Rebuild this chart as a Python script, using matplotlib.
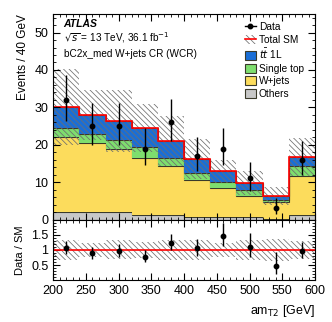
import numpy as np
import matplotlib
matplotlib.use('Agg')
import matplotlib.pyplot as plt
from matplotlib.patches import Patch
from matplotlib.lines import Line2D
from matplotlib.ticker import MultipleLocator

plt.rcParams['font.family'] = ['Liberation Sans', 'DejaVu Sans']
plt.rcParams['hatch.linewidth'] = 0.55

edges = np.arange(200, 601, 40)
centers = edges[:-1] + 20

others = [2.1, 2.1, 2.1, 1.1, 1.2, 0.8, 0.6, 0.6, 0.2, 1.2]
wjets = [20.1, 18.4, 16.9, 15.3, 13.2, 9.9, 7.9, 5.6, 4.4, 10.4]
single_top = [2.4, 2.3, 2.2, 3.1, 2.0, 1.8, 1.5, 1.7, 0.7, 2.6]
ttbar = [5.5, 5.2, 5.1, 4.9, 4.6, 3.7, 2.9, 2.0, 1.1, 2.5]
sm_unc = [10.1, 6.6, 8.3, 6.4, 6.7, 5.3, 3.0, 3.2, 2.4, 5.0]

data = [32, 25, 25, 19, 26, 17, 19, 11, 3, 16]
data_up = [6.7, 6.1, 6.1, 5.4, 6.2, 5.2, 5.4, 4.4, 2.9, 5.1]
data_dn = [5.6, 5.0, 5.0, 4.3, 5.1, 4.1, 4.3, 3.3, 1.6, 4.0]

samples = [
    ('Others', others, '#c8c8c8'),
    ('W+jets', wjets, '#fcdc5c'),
    ('Single top', single_top, '#7ede6e'),
    (r'$t\bar{t}$ 1L', ttbar, '#1a6ed6'),
]

HATCH = '\\\\\\\\\\\\'
HATCH_COL = '#6e6e6e'

fig = plt.figure(figsize=(3.32, 3.22), dpi=100)
ax = fig.add_axes([0.160, 0.318, 0.789, 0.639])
rax = fig.add_axes([0.160, 0.130, 0.789, 0.188])

base = np.zeros(len(data))
for name, vals, col in samples:
    top = base + np.array(vals)
    ax.stairs(top, edges, baseline=base, fill=True, color=col)
    ax.stairs(top, edges, baseline=None, color='#3a3a2a', lw=0.8)
    base = top
total = base
unc = np.array(sm_unc)

ax.stairs(total + unc, edges, baseline=total - unc, fill=True, facecolor='none',
          edgecolor=HATCH_COL, hatch=HATCH, lw=0)
ax.stairs(total, edges, baseline=None, color='red', lw=1.2)
ax.errorbar(centers, data, yerr=[data_dn, data_up], fmt='o', color='black',
            ms=3.2, elinewidth=1.0, capsize=0)

ax.set_xlim(200, 600)
ax.set_ylim(0, 55)
ax.set_ylabel('Events / 40 GeV', fontsize=8.5, loc='top')
ax.set_xticklabels([])

# ratio
data_a = np.array(data, dtype=float)
ratio = data_a / total
rax.stairs(1 + unc / total, edges, baseline=1 - unc / total, fill=True,
           facecolor='none', edgecolor=HATCH_COL, hatch=HATCH, lw=0)
rax.axhline(1, color='red', lw=1.2)
rax.errorbar(centers, ratio, yerr=[np.array(data_dn) / total, np.array(data_up) / total],
             fmt='o', color='black', ms=3.2, elinewidth=1.0, capsize=0)
rax.set_xlim(200, 600)
rax.set_ylim(0, 2)
rax.set_yticks([0.5, 1, 1.5])
rax.set_yticklabels(['0.5', '1', '1.5'])
rax.set_ylabel('Data / SM', fontsize=8)
rax.set_xlabel(r'am$_{\mathrm{T2}}$ [GeV]', fontsize=9, loc='right')

for a in (ax, rax):
    a.tick_params(which='both', direction='in', top=True, right=True, labelsize=9)
    a.tick_params(which='major', length=5)
    a.tick_params(which='minor', length=2.5)
    a.xaxis.set_major_locator(MultipleLocator(50))
    a.xaxis.set_minor_locator(MultipleLocator(10))
ax.yaxis.set_major_locator(MultipleLocator(10))
ax.yaxis.set_minor_locator(MultipleLocator(2))
rax.yaxis.set_minor_locator(MultipleLocator(0.1))

ax.text(0.04, 0.935, 'ATLAS', transform=ax.transAxes, fontsize=7.5,
        fontweight='bold', style='italic')
ax.text(0.04, 0.865, r'$\sqrt{s}$ = 13 TeV, 36.1 fb$^{-1}$', transform=ax.transAxes, fontsize=7.2)
ax.text(0.04, 0.79, 'bC2x_med W+jets CR (WCR)', transform=ax.transAxes, fontsize=7.2)

handles = [
    Line2D([], [], color='black', marker='o', ms=3.2, lw=1),
    (Patch(facecolor='none', edgecolor=HATCH_COL, hatch=HATCH, lw=0),
     Line2D([], [], color='red', lw=1.2)),
]
labels = ['Data', 'Total SM']
for name, vals, col in samples[::-1]:
    handles.append(Patch(facecolor=col, edgecolor='#3a3a2a', lw=0.8))
    labels.append(name)
ax.legend(handles, labels, loc='upper right', bbox_to_anchor=(0.98, 0.99), frameon=False,
          fontsize=7.3, handlelength=1.1, handleheight=1.0, handletextpad=0.3,
          labelspacing=0.25, borderaxespad=0.2)

fig.savefig('out.png', dpi=100)
